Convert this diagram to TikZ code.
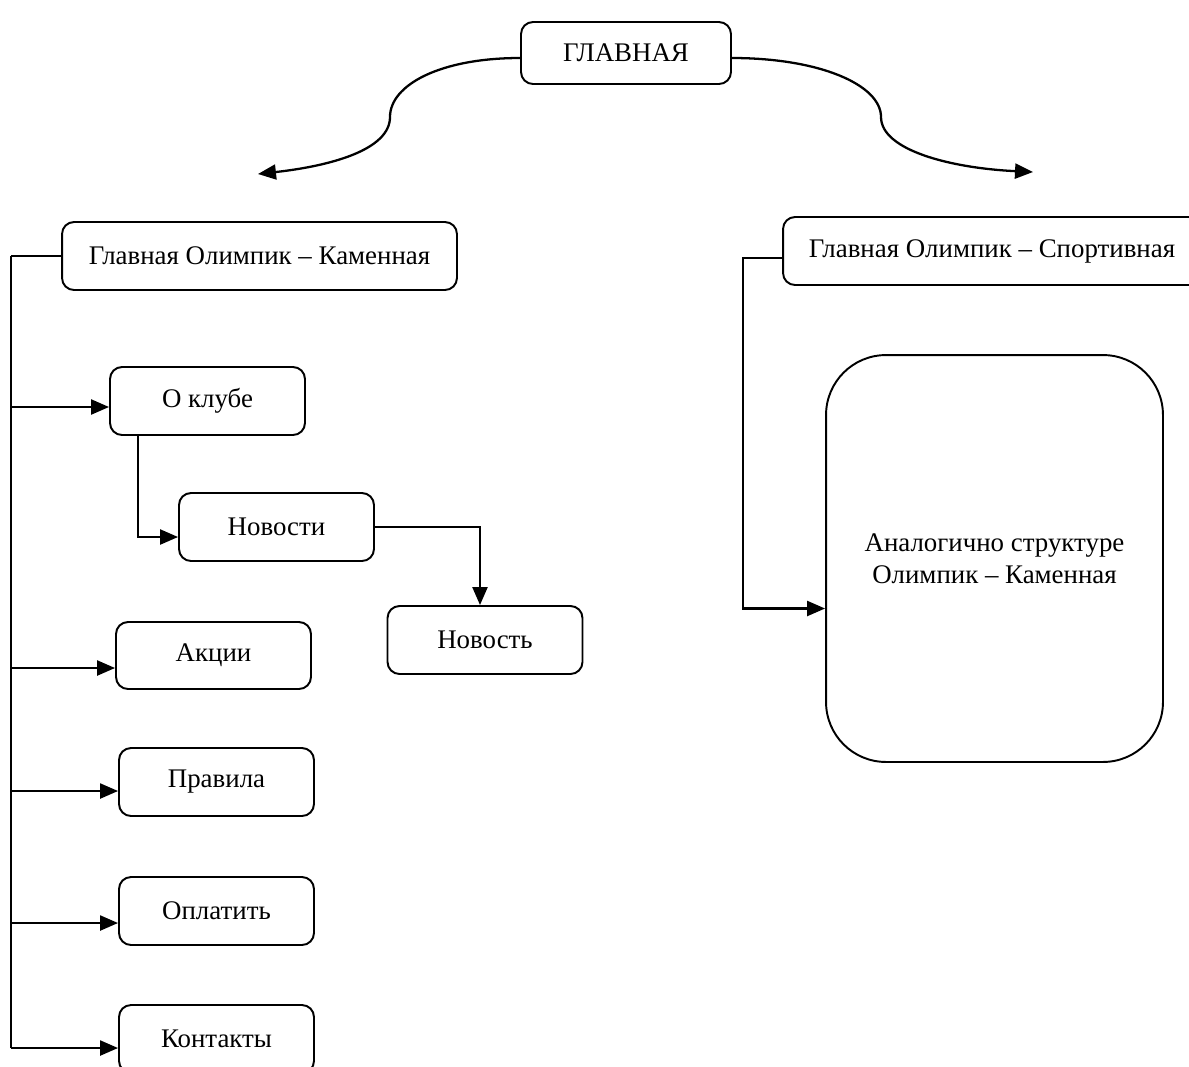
\documentclass[tikz,border=0pt]{standalone}
\usepackage{fontspec}
\setmainfont{Liberation Serif}
\usetikzlibrary{arrows.meta}

\begin{document}
\begin{tikzpicture}[x=0.02cm,y=-0.02cm,line width=1.1pt,
  page node/.style={draw, rounded corners=0.24cm, minimum width=3.9cm, minimum height=1.36cm, inner sep=0pt, font=\fontsize{15.3}{18}\selectfont},
  link/.style={-{Triangle[length=0.36cm,width=0.3cm]}, line width=1.3pt}]
			\useasboundingbox (0,0) rectangle (1189,1066);
			\clip (0,0) rectangle (1189,1066);
			% Nodes
			\node[page node, minimum width=4.2cm, minimum height=1.24cm] (main) at (626,53) {ГЛАВНАЯ};
			\node[page node, minimum width=7.9cm] (kam) at (259.5,256) {Главная Олимпик – Каменная};
			\node[page node, minimum width=8.36cm] (sport) at (992,251) {Главная Олимпик – Спортивная};
			\node[page node] (okl) at (207.5,401) {О клубе};
			\node[page node] (nvs) at (276.5,527) {Новости};
			\node[page node] (nvt) at (485,640) {Новость};
			\node[page node, minimum height=1.34cm] (akc) at (213.5,655.5) {Акции};
			\node[page node] (prav) at (216.5,782) {Правила};
			\node[page node] (opl) at (216.5,911) {Оплатить};
			\node[page node] (kont) at (216.5,1039) {Контакты};
			\node[page node, rounded corners=1.2cm, minimum width=6.74cm, minimum height=8.14cm, align=center] (anal) at (994.5,558.5) {Аналогично структуре\\Олимпик – Каменная};
			
			% arrow ends
			\coordinate (left end) at (258,174);
			\coordinate (right end) at (1033,172);
			\coordinate (okl in) at ([yshift=-0.12cm]okl.west);
			\coordinate (nvs in) at ([yshift=-0.2cm]nvs.west);
			\coordinate (akc in) at ([yshift=-0.25cm]akc.west);
			\coordinate (prav in) at ([yshift=-0.18cm]prav.west);
			\coordinate (opl in) at ([yshift=-0.24cm]opl.west);
			\coordinate (kont in) at ([yshift=-0.18cm]kont.west);
			\coordinate (anal in) at ([yshift=-1cm]anal.west);
			
			\draw[link] ([yshift=-0.1cm]main.west) .. controls (440,58) and (390,85) .. (390,117) .. controls (390,150) and (330,166) .. (left end);
			\draw[link] ([yshift=-0.1cm]main.east) .. controls (820,58) and (881,85) .. (881,117) .. controls (881,150) and (950,168) .. (right end);
			
			\draw (kam.west) -- ++(-50,0) coordinate (trunk);
			\draw (trunk) -- (trunk |- kont in);
			\draw[link] (trunk |- okl in) -- (okl in);
			\draw[link] (trunk |- akc in) -- (akc in);
			\draw[link] (trunk |- prav in) -- (prav in);
			\draw[link] (trunk |- opl in) -- (opl in);
			\draw[link] (trunk |- kont in) -- (kont in);
			
			\draw[link] ([xshift=0.58cm]okl.south west) |- (nvs in);
			\draw[link] (nvs.east) -| ([xshift=-0.1cm]nvt.north);
			
			\draw[link] ([yshift=-0.14cm]sport.west) -- ++(-39,0) |- (anal in);
			
		\end{tikzpicture}
\end{document}
